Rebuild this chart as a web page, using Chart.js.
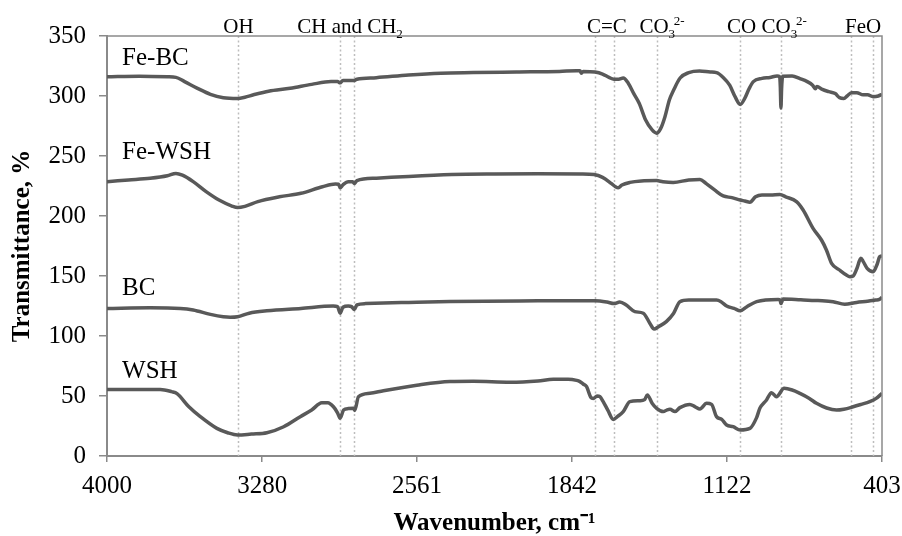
<!DOCTYPE html>
<html>
<head>
<meta charset="utf-8">
<script src="https://cdn.jsdelivr.net/npm/chart.js@4.4.1/dist/chart.umd.min.js"></script>
<style>
  html, body { margin: 0; padding: 0; background: #fff; }
  #wrap { width: 902px; height: 536px; }
</style>
</head>
<body>
<div id="wrap"><canvas id="ftir" width="902" height="536"></canvas></div>
<script>
// --- data (wavenumber cm-1 -> transmittance %) ---
const xTicks = [4000, 3280, 2561, 1842, 1122, 403];
const yTicks = [0, 50, 100, 150, 200, 250, 300, 350];

const feBcWn = [4000, 3850, 3720, 3680, 3640, 3580, 3520, 3460, 3394, 3360, 3320, 3250, 3150, 3050, 2960, 2930, 2918, 2905, 2852, 2840, 2750, 2600, 2450, 2300, 2100, 1900, 1820, 1805, 1798, 1790, 1735, 1700, 1670, 1647, 1625, 1604, 1580, 1555, 1530, 1500, 1470, 1449, 1430, 1410, 1390, 1370, 1340, 1300, 1250, 1200, 1171, 1140, 1110, 1085, 1061, 1040, 1020, 1000, 960, 923, 890, 878, 875, 872, 869, 864, 820, 784, 750, 725, 712, 705, 680, 650, 620, 600, 580, 565, 545, 520, 491, 470, 444, 420, 403];
const feBcT  = [316, 316.5, 316, 315.5, 312, 306.4, 301.4, 298.6, 298, 299, 301, 304, 306.4, 309.7, 312, 312, 311, 313, 313, 314, 315.3, 317.5, 319, 319.5, 320, 320.5, 321, 321, 319, 320.5, 320, 318.3, 315.5, 314, 314, 315, 310.5, 302, 294, 280, 271.7, 269, 273, 283, 296.7, 305, 315, 319.5, 320.8, 320, 319.5, 315.5, 309, 299.4, 293, 298, 306, 312, 314.7, 315.5, 316.7, 316, 308, 290, 306, 316.5, 316.7, 314.5, 312, 309, 306, 308, 305.5, 303.6, 302, 298.6, 298, 300, 302.8, 302.8, 301, 301, 299.4, 300, 301.4];

const feWshWn = [4000, 3900, 3800, 3720, 3680, 3650, 3600, 3540, 3480, 3420, 3394, 3360, 3300, 3200, 3100, 3000, 2940, 2925, 2918, 2905, 2880, 2860, 2852, 2840, 2750, 2600, 2400, 2200, 2000, 1800, 1740, 1700, 1660, 1640, 1627, 1610, 1573, 1520, 1449, 1420, 1372, 1300, 1248, 1220, 1180, 1140, 1100, 1061, 1040, 1016, 990, 960, 920, 877, 850, 800, 769, 723, 684, 661, 637, 600, 570, 552, 537, 520, 501, 490, 472, 444, 425, 414, 403];
const feWshT  = [228.6, 230, 231.4, 233.5, 235.5, 234, 228.6, 220.3, 213.3, 208.3, 207, 208, 212, 216, 218.9, 224.4, 226.7, 226.5, 223.5, 226, 228.6, 228.6, 227, 229.5, 231.5, 233, 234.5, 235, 235.2, 235, 234.5, 232.2, 227.2, 224.4, 223.5, 225.8, 228, 229.2, 229.5, 228.6, 228, 230, 230.5, 227.2, 221.7, 216.7, 215.3, 213.3, 212.5, 211.5, 216, 217.5, 217.5, 218, 216, 212, 205, 189.7, 180, 171.7, 160.6, 155, 151, 149.4, 150, 156, 164.7, 162, 156.4, 153.6, 160, 166, 166.7];

const bcWn = [4000, 3800, 3660, 3600, 3520, 3460, 3428, 3394, 3340, 3258, 3100, 2950, 2930, 2918, 2905, 2880, 2865, 2852, 2840, 2800, 2600, 2408, 2000, 1735, 1680, 1647, 1620, 1590, 1550, 1511, 1480, 1461, 1440, 1404, 1370, 1341, 1300, 1171, 1150, 1124, 1090, 1061, 1030, 985, 885, 876, 872, 866, 862, 780, 700, 630, 576, 521, 470, 432, 415, 403];
const bcT  = [123, 123.5, 123, 121.7, 118, 116, 115.6, 116, 119, 121, 123, 125, 124.5, 119, 124, 125, 124.5, 122, 126, 127, 128, 128.8, 129.3, 129.4, 128.3, 127, 128.3, 125.8, 120.3, 119, 110.5, 105.8, 107.8, 112, 119, 128.6, 130, 130, 128.6, 125, 123, 121, 124.4, 128.6, 130.5, 130, 127, 129.5, 130.8, 130.2, 129.5, 128.6, 126.4, 128, 129, 130, 130.5, 132.2];

const wshWn = [4000, 3850, 3753, 3700, 3675, 3620, 3567, 3490, 3440, 3394, 3330, 3258, 3180, 3103, 3050, 3003, 2975, 2949, 2930, 2918, 2902, 2880, 2856, 2850, 2833, 2780, 2717, 2562, 2408, 2300, 2129, 2000, 1929, 1860, 1820, 1805, 1790, 1774, 1755, 1743, 1725, 1712, 1697, 1675, 1650, 1630, 1604, 1573, 1527, 1505, 1492, 1470, 1449, 1418, 1400, 1387, 1364, 1341, 1295, 1270, 1248, 1217, 1194, 1171, 1147, 1124, 1094, 1061, 1016, 985, 970, 939, 916, 893, 857, 820, 784, 740, 707, 660, 614, 580, 537, 500, 460, 430, 403];
const wshT  = [55.5, 55.5, 55.5, 53.6, 52, 41, 32.8, 23, 19.4, 17.5, 18.3, 19.4, 24.4, 32.8, 38.3, 44.4, 44.4, 41, 36, 31.4, 38.3, 39.5, 39.7, 38, 49.4, 52.2, 54.4, 59, 62, 62.2, 61.4, 62.5, 64, 64, 63, 62, 60, 57.8, 49, 48, 50, 49.4, 45.3, 38, 30.5, 33, 37, 45.3, 46, 47, 50.8, 44, 39.7, 37, 38.5, 38.9, 37, 40.3, 43, 41, 39.2, 43.9, 43, 32.8, 30.5, 25.8, 24.4, 21.7, 23, 32, 39.7, 46.7, 52.8, 49.4, 56.4, 55, 52.2, 48, 43.9, 40, 38.3, 39, 41, 43, 45.3, 48, 52.2];

// band marker lines and their labels
const bandLines = [3394, 2918, 2852, 1735, 1647, 1449, 1061, 872, 545, 444];
const bandLabels = [
  { at: 3390, parts: [['OH', 'n']] },
  { at: 2872, parts: [['CH and CH', 'n'], ['2', 'sub']] },
  { at: 1680, parts: [['C=C', 'n']] },
  { at: 1421, parts: [['CO', 'n'], ['3', 'sub'], ['2-', 'sup']] },
  { at: 1055, parts: [['CO', 'n']] },
  { at: 854, parts: [['CO', 'n'], ['3', 'sub'], ['2-', 'sup']] },
  { at: 491, parts: [['FeO', 'n']] }
];

const seriesNames = ['Fe-BC', 'Fe-WSH', 'BC', 'WSH'];
const seriesLabelAt = [325.8, 247.2, 134, 64.7]; // label baseline, in % units

const serif = "'Liberation Serif', 'Times New Roman', serif";
const lineColor = '#595959';
const axisColor = '#8a8a8a';

function pairs(wn, t) {
  return wn.map((w, i) => ({ x: w, y: t[i] }));
}

function spectrum(label, wn, t) {
  return {
    label,
    data: pairs(wn, t),
    borderColor: lineColor,
    borderWidth: 3.5,
    pointRadius: 0,
    fill: false,
    cubicInterpolationMode: 'monotone'
  };
}

// draws text made of normal / subscript / superscript pieces, centred on cx
function drawParts(ctx, parts, cx, baseY, size) {
  const fontFor = (k) => (k === 'n' ? size : Math.round(size * 0.62)) + 'px ' + serif;
  let total = 0;
  parts.forEach(([s, k]) => { ctx.font = fontFor(k); total += ctx.measureText(s).width; });
  let x = cx - total / 2;
  let lastSubW = 0;
  parts.forEach(([s, k]) => {
    ctx.font = fontFor(k);
    const w = ctx.measureText(s).width;
    if (k === 'sub') {
      ctx.fillText(s, x, baseY + 5);
      lastSubW = w;
    } else if (k === 'sup') {
      ctx.fillText(s, x - lastSubW * 0.2, baseY - 8);
    } else {
      ctx.fillText(s, x, baseY);
    }
    x += w;
  });
}

const bandPlugin = {
  id: 'bands',
  beforeDatasetsDraw(chart) {
    const { ctx, chartArea: a, scales: { x } } = chart;
    ctx.save();
    ctx.strokeStyle = '#bdbdbd';
    ctx.lineWidth = 1.5;
    ctx.setLineDash([2, 2.5]);
    bandLines.forEach(w => {
      const px = Math.round(x.getPixelForValue(w)) + 0.5;
      ctx.beginPath();
      ctx.moveTo(px, a.top);
      ctx.lineTo(px, a.bottom);
      ctx.stroke();
    });
    ctx.restore();
  },
  afterDraw(chart) {
    const { ctx, chartArea: a, scales: { x, y } } = chart;
    ctx.save();
    // frame top and right
    ctx.strokeStyle = axisColor;
    ctx.lineWidth = 1.5;
    ctx.beginPath();
    ctx.moveTo(a.left, a.top);
    ctx.lineTo(a.right, a.top);
    ctx.lineTo(a.right, a.bottom);
    ctx.stroke();

    ctx.fillStyle = '#000';
    ctx.textBaseline = 'alphabetic';
    ctx.textAlign = 'left';
    bandLabels.forEach(b => drawParts(ctx, b.parts, x.getPixelForValue(b.at), a.top - 3, 21));

    ctx.font = '25px ' + serif;
    const lx = x.getPixelForValue(3930);
    seriesNames.forEach((n, i) => ctx.fillText(n, lx, y.getPixelForValue(seriesLabelAt[i])));
    ctx.restore();
  }
};

new Chart(document.getElementById('ftir'), {
  type: 'line',
  data: {
    datasets: [
      spectrum(seriesNames[0], feBcWn, feBcT),
      spectrum(seriesNames[1], feWshWn, feWshT),
      spectrum(seriesNames[2], bcWn, bcT),
      spectrum(seriesNames[3], wshWn, wshT)
    ]
  },
  options: {
    responsive: false,
    devicePixelRatio: 1,
    animation: false,
    layout: { padding: { top: 36, right: 20, left: 0, bottom: 0 } },
    plugins: { legend: { display: false }, tooltip: { enabled: false } },
    scales: {
      x: {
        type: 'linear',
        reverse: true,
        min: 403,
        max: 4000,
        afterBuildTicks: (s) => { s.ticks = xTicks.map(v => ({ value: v })); },
        afterFit: (s) => { s.height = 80; s.paddingLeft = 0; s.paddingRight = 0; },
        grid: { drawOnChartArea: false, color: axisColor, lineWidth: 1.5, tickLength: 6 },
        border: { color: axisColor, width: 2 },
        ticks: {
          autoSkip: false,
          maxRotation: 0,
          padding: 9,
          color: '#000',
          font: { family: serif, size: 25 },
          callback: (v) => String(v)
        },
        title: {
          display: true,
          text: 'Wavenumber, cm\u207B\u00B9',
          color: '#000',
          font: { family: serif, size: 25, weight: 'bold', lineHeight: 1.0 },
          padding: { top: 0, bottom: 0 }
        }
      },
      y: {
        min: 0,
        max: 350,
        afterBuildTicks: (s) => { s.ticks = yTicks.map(v => ({ value: v })); },
        afterFit: (s) => { s.width = 107; },
        grid: { drawOnChartArea: false, color: axisColor, lineWidth: 1.5, tickLength: 8 },
        border: { color: axisColor, width: 2 },
        ticks: {
          padding: 13,
          color: '#000',
          font: { family: serif, size: 25 }
        },
        title: {
          display: true,
          text: 'Transmittance, %',
          color: '#000',
          font: { family: serif, size: 25, weight: 'bold', lineHeight: 1.2 },
          padding: { top: 8, bottom: 0 }
        }
      }
    }
  },
  plugins: [bandPlugin]
});
</script>
</body>
</html>
